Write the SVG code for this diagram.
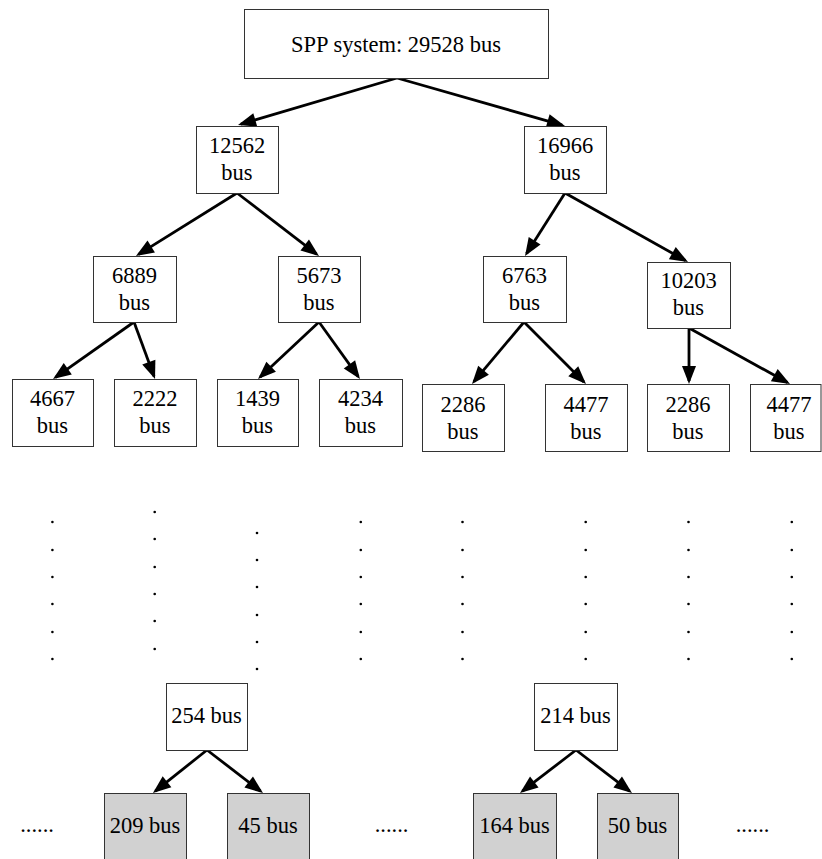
<svg xmlns="http://www.w3.org/2000/svg" width="822" height="859" viewBox="0 0 822 859">
<style>
.box{fill:#fff;stroke:#333;stroke-width:1}
.leaf{fill:#d1d1d1;stroke:#333;stroke-width:1}
text{font-family:"Liberation Serif","Times New Roman",serif;font-size:22.5px;fill:#000;text-anchor:middle}
.edge{stroke:#000;stroke-width:2.8;fill:none;marker-end:url(#ah)}
.dot{fill:#000}
</style>
<defs>
<marker id="ah" markerUnits="userSpaceOnUse" markerWidth="18" markerHeight="14" refX="15" refY="7" orient="auto" overflow="visible">
<path d="M0,0 L18,7 L0,14 z" fill="#000"/>
</marker>
</defs>
<rect width="822" height="859" fill="#fff"/>
<g id="connectors">
<line class="edge" x1="397" y1="78" x2="240.9" y2="124.2"/>
<line class="edge" x1="397" y1="78" x2="562.1" y2="125.2"/>
<line class="edge" x1="237" y1="193" x2="138.5" y2="254.4"/>
<line class="edge" x1="237" y1="193" x2="316.6" y2="254.2"/>
<line class="edge" x1="565" y1="193" x2="526.6" y2="253.5"/>
<line class="edge" x1="565" y1="193" x2="685.4" y2="260.5"/>
<line class="edge" x1="134" y1="322" x2="55.5" y2="377.3"/>
<line class="edge" x1="134" y1="322" x2="154" y2="376.2"/>
<line class="edge" x1="319" y1="322" x2="260.2" y2="377"/>
<line class="edge" x1="319" y1="322" x2="358.2" y2="376.6"/>
<line class="edge" x1="524" y1="322" x2="473.9" y2="381.7"/>
<line class="edge" x1="524" y1="322" x2="583.9" y2="381.9"/>
<line class="edge" x1="689" y1="328" x2="689" y2="381"/>
<line class="edge" x1="689" y1="328" x2="787.4" y2="382.5"/>
<line class="edge" x1="207" y1="750" x2="155.3" y2="791.1"/>
<line class="edge" x1="207" y1="750" x2="260.6" y2="791.2"/>
<line class="edge" x1="576" y1="750" x2="522.4" y2="791.2"/>
<line class="edge" x1="576" y1="750" x2="629.6" y2="791.2"/>
</g>
<g id="root"><rect class="box" x="244.5" y="9.5" width="304" height="69"/><text x="396" y="52">SPP system: 29528 bus</text></g>
<g id="n12562"><rect class="box" x="196.5" y="126.5" width="82" height="67"/><text x="237" y="153">12562</text><text x="237" y="180">bus</text></g>
<g id="n16966"><rect class="box" x="524.5" y="126.5" width="82" height="67"/><text x="565" y="153">16966</text><text x="565" y="180">bus</text></g>
<g id="n6889"><rect class="box" x="93.5" y="256.5" width="83" height="66"/><text x="134.5" y="283">6889</text><text x="134.5" y="310">bus</text></g>
<g id="n5673"><rect class="box" x="278.5" y="256.5" width="82" height="66"/><text x="319" y="283">5673</text><text x="319" y="310">bus</text></g>
<g id="n6763"><rect class="box" x="483.5" y="256.5" width="83" height="66"/><text x="524.5" y="283">6763</text><text x="524.5" y="310">bus</text></g>
<g id="n10203"><rect class="box" x="647.5" y="262.5" width="83" height="66"/><text x="688.5" y="288">10203</text><text x="688.5" y="315">bus</text></g>
<g id="n4667"><rect class="box" x="12.5" y="379.5" width="81" height="67"/><text x="52.5" y="406">4667</text><text x="52.5" y="433">bus</text></g>
<g id="n2222"><rect class="box" x="114.5" y="379.5" width="82" height="67"/><text x="155" y="406">2222</text><text x="155" y="433">bus</text></g>
<g id="n1439"><rect class="box" x="217.5" y="379.5" width="81" height="67"/><text x="257.5" y="406">1439</text><text x="257.5" y="433">bus</text></g>
<g id="n4234"><rect class="box" x="319.5" y="379.5" width="83" height="67"/><text x="360.5" y="406">4234</text><text x="360.5" y="433">bus</text></g>
<g id="n2286a"><rect class="box" x="422.5" y="384.5" width="82" height="67"/><text x="463" y="411.5">2286</text><text x="463" y="438.5">bus</text></g>
<g id="n4477a"><rect class="box" x="545.5" y="384.5" width="82" height="67"/><text x="586" y="411.5">4477</text><text x="586" y="438.5">bus</text></g>
<g id="n2286b"><rect class="box" x="647.5" y="384.5" width="82" height="67"/><text x="688" y="411.5">2286</text><text x="688" y="438.5">bus</text></g>
<g id="n4477b"><rect class="box" x="750.5" y="384.5" width="70.5" height="67"/><text x="789" y="411.5">4477</text><text x="789" y="438.5">bus</text></g>
<g id="dots">
<g transform="translate(52.4,0)"><circle class="dot" cx="0" cy="522" r="1.3"/><circle class="dot" cx="0" cy="550" r="1.3"/><circle class="dot" cx="0" cy="577" r="1.3"/><circle class="dot" cx="0" cy="604" r="1.3"/><circle class="dot" cx="0" cy="632" r="1.3"/><circle class="dot" cx="0" cy="659" r="1.3"/></g>
<g transform="translate(154.7,0)"><circle class="dot" cx="0" cy="512" r="1.3"/><circle class="dot" cx="0" cy="539" r="1.3"/><circle class="dot" cx="0" cy="567" r="1.3"/><circle class="dot" cx="0" cy="594" r="1.3"/><circle class="dot" cx="0" cy="621" r="1.3"/><circle class="dot" cx="0" cy="649" r="1.3"/></g>
<g transform="translate(257,0)"><circle class="dot" cx="0" cy="533" r="1.3"/><circle class="dot" cx="0" cy="560" r="1.3"/><circle class="dot" cx="0" cy="587" r="1.3"/><circle class="dot" cx="0" cy="615" r="1.3"/><circle class="dot" cx="0" cy="642" r="1.3"/><circle class="dot" cx="0" cy="669" r="1.3"/></g>
<g transform="translate(360.8,0)"><circle class="dot" cx="0" cy="522" r="1.3"/><circle class="dot" cx="0" cy="550" r="1.3"/><circle class="dot" cx="0" cy="577" r="1.3"/><circle class="dot" cx="0" cy="604" r="1.3"/><circle class="dot" cx="0" cy="632" r="1.3"/><circle class="dot" cx="0" cy="659" r="1.3"/></g>
<g transform="translate(462.5,0)"><circle class="dot" cx="0" cy="522" r="1.3"/><circle class="dot" cx="0" cy="550" r="1.3"/><circle class="dot" cx="0" cy="577" r="1.3"/><circle class="dot" cx="0" cy="604" r="1.3"/><circle class="dot" cx="0" cy="632" r="1.3"/><circle class="dot" cx="0" cy="659" r="1.3"/></g>
<g transform="translate(585.7,0)"><circle class="dot" cx="0" cy="522" r="1.3"/><circle class="dot" cx="0" cy="550" r="1.3"/><circle class="dot" cx="0" cy="577" r="1.3"/><circle class="dot" cx="0" cy="604" r="1.3"/><circle class="dot" cx="0" cy="632" r="1.3"/><circle class="dot" cx="0" cy="659" r="1.3"/></g>
<g transform="translate(688.5,0)"><circle class="dot" cx="0" cy="522" r="1.3"/><circle class="dot" cx="0" cy="550" r="1.3"/><circle class="dot" cx="0" cy="577" r="1.3"/><circle class="dot" cx="0" cy="604" r="1.3"/><circle class="dot" cx="0" cy="632" r="1.3"/><circle class="dot" cx="0" cy="659" r="1.3"/></g>
<g transform="translate(791.8,0)"><circle class="dot" cx="0" cy="522" r="1.3"/><circle class="dot" cx="0" cy="550" r="1.3"/><circle class="dot" cx="0" cy="577" r="1.3"/><circle class="dot" cx="0" cy="604" r="1.3"/><circle class="dot" cx="0" cy="632" r="1.3"/><circle class="dot" cx="0" cy="659" r="1.3"/></g>
</g>
<g id="n254"><rect class="box" x="166.5" y="683.5" width="81" height="67"/><text x="206.5" y="723">254 bus</text></g>
<g id="n214"><rect class="box" x="534.5" y="683.5" width="83" height="67"/><text x="575.5" y="723">214 bus</text></g>
<g id="n209"><rect class="leaf" x="104.5" y="793.5" width="82" height="75"/><text x="145" y="833">209 bus</text></g>
<g id="n45"><rect class="leaf" x="227.5" y="793.5" width="82" height="75"/><text x="268" y="833">45 bus</text></g>
<g id="n164"><rect class="leaf" x="473.5" y="793.5" width="83" height="75"/><text x="514.5" y="833">164 bus</text></g>
<g id="n50"><rect class="leaf" x="597.5" y="793.5" width="81" height="75"/><text x="637.5" y="833">50 bus</text></g>
<g id="ellipses">
<text x="37" y="832">......</text>
<text x="391.5" y="832">......</text>
<text x="752.5" y="832">......</text>
</g>
</svg>
